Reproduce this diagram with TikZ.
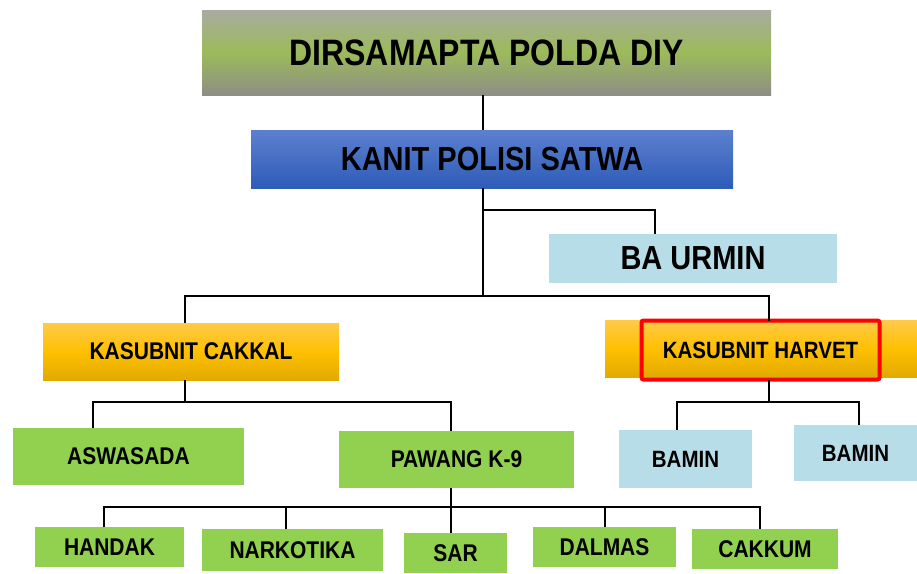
\documentclass[tikz,border=0pt]{standalone}
\usepackage{fontspec}
\setmainfont{Liberation Sans}
\definecolor{grnbox}{HTML}{92D050}
\definecolor{lblue}{HTML}{B7DEE8}
\definecolor{orgtop}{HTML}{FFCA4A}
\definecolor{orgmid}{HTML}{FFC000}
\definecolor{orgbot}{HTML}{E2AA00}
\definecolor{graytop}{HTML}{A9AB9F}
\definecolor{greenmid}{HTML}{9BBB59}
\definecolor{graybot}{HTML}{8E8E85}
\definecolor{bluetop}{HTML}{5C80CF}
\definecolor{bluebot}{HTML}{2E5CB8}
\newcommand{\tx}[2]{\scalebox{1}[1.15]{\fontsize{#1}{#1}\selectfont\bfseries #2}}
\begin{document}
\begin{tikzpicture}[x=1pt,y=-1pt,
  box/.style={inner sep=0pt,outer sep=0pt,align=center},
  grn/.style={box,fill=grnbox},
  lb/.style={box,fill=lblue},
  org/.style={box,top color=orgtop,bottom color=orgbot,middle color=orgmid},
  conn/.style={line width=2.4pt,black}]
\useasboundingbox (0,0) rectangle (917,573);
% boxes
\node[box,top color=graytop,bottom color=graybot,middle color=greenmid,minimum width=569,minimum height=85] (top) at (486.5,52.5) {\tx{32}{DIRSAMAPTA POLDA DIY}};
\node[box,top color=bluetop,bottom color=bluebot,minimum width=482,minimum height=58] (kanit) at (492,159) {\tx{29}{KANIT POLISI SATWA}};
\node[lb,minimum width=288,minimum height=49] (baurmin) at (693,258.5) {\tx{29}{BA URMIN}};
\node[org,minimum width=296,minimum height=57] (cakkal) at (191,351.5) {\tx{21}{KASUBNIT CAKKAL}};
\node[org,minimum width=312,minimum height=57] (harvetbg) at (761,348.5) {};
\node[box,draw=red,line width=4pt,rounded corners=2pt,minimum width=238,minimum height=59] (harvet) at (760.5,350) {\tx{20.5}{KASUBNIT HARVET}};
\node[lb,minimum width=133,minimum height=58] (bamina) at (685.5,459) {\tx{20.5}{BAMIN}};
\node[lb,minimum width=123,minimum height=56] (baminb) at (855.5,453) {\tx{20.5}{BAMIN}};
\node[grn,minimum width=231,minimum height=57] (aswasada) at (128.5,456.5) {\tx{21}{ASWASADA}};
\node[grn,minimum width=235,minimum height=57] (pawang) at (456.5,459.5) {\tx{21}{PAWANG K-9}};
\node[grn,minimum width=149,minimum height=40] (handak) at (109.5,547) {\tx{21}{HANDAK}};
\node[grn,minimum width=181,minimum height=42] (narkotika) at (292.5,550) {\tx{21}{NARKOTIKA}};
\node[grn,minimum width=103,minimum height=40] (sar) at (455.5,553) {\tx{21}{SAR}};
\node[grn,minimum width=143,minimum height=40] (dalmas) at (604.5,547) {\tx{21}{DALMAS}};
\node[grn,minimum width=146,minimum height=40] (cakkum) at (765,549) {\tx{21}{CAKKUM}};
% junctions
\coordinate (jm) at (483,296);
\coordinate (jb) at (483,210);
\coordinate (jc) at (185,402);
\coordinate (jh) at (769,402);
\coordinate (jp) at (451,507);
% connectors
\draw[conn] (top.south -| jm) -- (kanit.north -| jm);
\draw[conn] (kanit.south -| jm) -- (jm);
\draw[conn] (jb) -| ([xshift=-38pt]baurmin.north);
\draw[conn] ([xshift=-6pt]cakkal.north) |- (jm) -| ([xshift=8.5pt]harvet.north);
\draw[conn] (cakkal.south -| jc) -- (jc);
\draw[conn] ([xshift=-35.5pt]aswasada.north) |- (jc) -| ([xshift=-5.5pt]pawang.north);
\draw[conn] (harvet.south -| jh) -- (jh);
\draw[conn] ([xshift=-8.5pt]bamina.north) |- (jh) -| ([xshift=3.5pt]baminb.north);
\draw[conn] (pawang.south -| jp) -- (sar.north -| jp);
\draw[conn] ([xshift=-5.5pt]handak.north) |- (jp) -| ([xshift=-5pt]cakkum.north);
\draw[conn] ([xshift=-6.5pt]narkotika.north) -- ([xshift=-6.5pt]narkotika.north |- jp);
\draw[conn] ([xshift=0.5pt]dalmas.north) -- ([xshift=0.5pt]dalmas.north |- jp);
\end{tikzpicture}
\end{document}
